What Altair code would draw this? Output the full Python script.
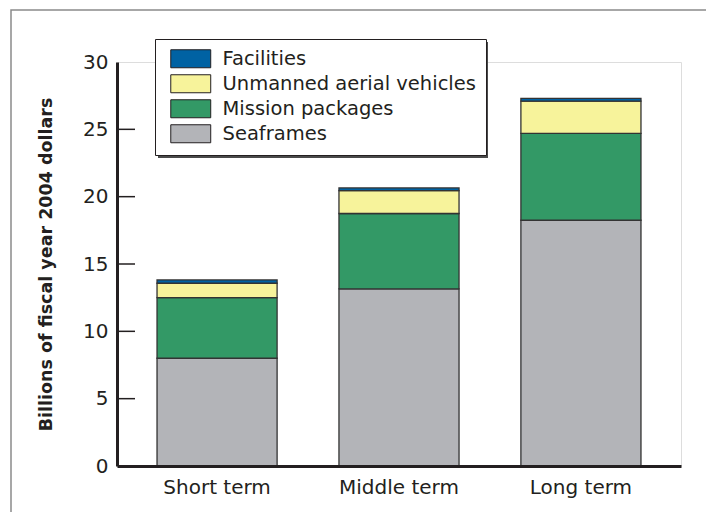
import altair as alt
import pandas as pd

categories = ["Short term", "Middle term", "Long term"]
components = ["Facilities", "Unmanned aerial vehicles", "Mission packages", "Seaframes"]
seaframes = [8.0, 13.15, 18.25]
mission_packages = [4.5, 5.6, 6.45]
uav = [1.07, 1.7, 2.4]
facilities = [0.25, 0.2, 0.2]
colors = ["#0062a3", "#f7f39b", "#339966", "#b3b4b8"]
y_ticks = [0, 5, 10, 15, 20, 25, 30]
inner_ticks = [5, 10, 15, 20, 25]

series = {
    "Seaframes": seaframes,
    "Mission packages": mission_packages,
    "Unmanned aerial vehicles": uav,
    "Facilities": facilities,
}
stack_rank = {"Seaframes": 0, "Mission packages": 1, "Unmanned aerial vehicles": 2, "Facilities": 3}
rows = []
for comp, vals in series.items():
    for cat, v in zip(categories, vals):
        rows.append({"term": cat, "component": comp, "value": v, "rank": stack_rank[comp]})
df = pd.DataFrame(rows)
ticks_df = pd.DataFrame({"t": inner_ticks})

FONT = "DejaVu Sans"
TXT = "#231f20"

frame = alt.Chart(pd.DataFrame({"a": [0]})).mark_rect(
    fillOpacity=0, stroke="#8a8a8a", strokeWidth=1.5
).encode(
    x=alt.value(-106), x2=alt.value(593), y=alt.value(-52), y2=alt.value(470)
)

legend_shadow = alt.Chart(pd.DataFrame({"a": [0]})).mark_rect(
    fill="#4a4a4a", stroke=None
).encode(
    x=alt.value(41), x2=alt.value(371), y=alt.value(-20), y2=alt.value(96)
)

bars = alt.Chart(df).mark_bar(stroke="#333333", strokeWidth=1.3).encode(
    x=alt.X("term:N", sort=categories,
            scale=alt.Scale(paddingInner=0.34, paddingOuter=0.22),
            axis=alt.Axis(title=None, labelAngle=0, ticks=False, labelPadding=11,
                          labelFontSize=20, labelFont=FONT, labelColor=TXT,
                          domainColor=TXT, domainWidth=3, zindex=2)),
    y=alt.Y("value:Q", stack="zero",
            scale=alt.Scale(domain=[0, 30], nice=False),
            axis=alt.Axis(values=y_ticks, ticks=False, grid=False, labelPadding=9,
                          labelFontSize=20, labelFont=FONT, labelColor=TXT,
                          domainColor=TXT, domainWidth=3, zindex=2,
                          title="Billions of fiscal year 2004 dollars",
                          titleFont=FONT, titleFontSize=17.5, titleFontWeight="bold",
                          titleColor=TXT, titleAngle=-90, titleX=-71, titleY=202,
                          titleAlign="center", titleBaseline="middle")),
    color=alt.Color("component:N",
                    scale=alt.Scale(domain=components, range=colors),
                    legend=alt.Legend(title=None, orient="none", legendX=38, legendY=-23,
                                      fillColor="white", strokeColor=TXT, padding=10,
                                      symbolType="M-2.22,-1L2.22,-1L2.22,1L-2.22,1Z",
                                      symbolSize=324, symbolStrokeColor=TXT,
                                      symbolStrokeWidth=1, symbolOpacity=1,
                                      symbolOffset=16, labelOffset=22, rowPadding=2,
                                      labelLimit=400,
                                      labelFontSize=19.5, labelFont=FONT, labelColor=TXT)),
    order=alt.Order("rank:Q", sort="ascending"),
)

tick_marks = alt.Chart(ticks_df).mark_rule(color=TXT, strokeWidth=1.5).encode(
    y="t:Q", x=alt.value(0), x2=alt.value(18)
)

chart = alt.layer(frame, bars, tick_marks, legend_shadow).properties(
    width=564, height=404,
    autosize=alt.AutoSizeParams(type="none"),
    padding={"left": 109, "top": 54, "right": 25, "bottom": 46},
).configure_view(stroke="#444444", strokeWidth=2).configure(background="white")

chart.save("out.html", embed_options={"renderer": "svg", "actions": False})
